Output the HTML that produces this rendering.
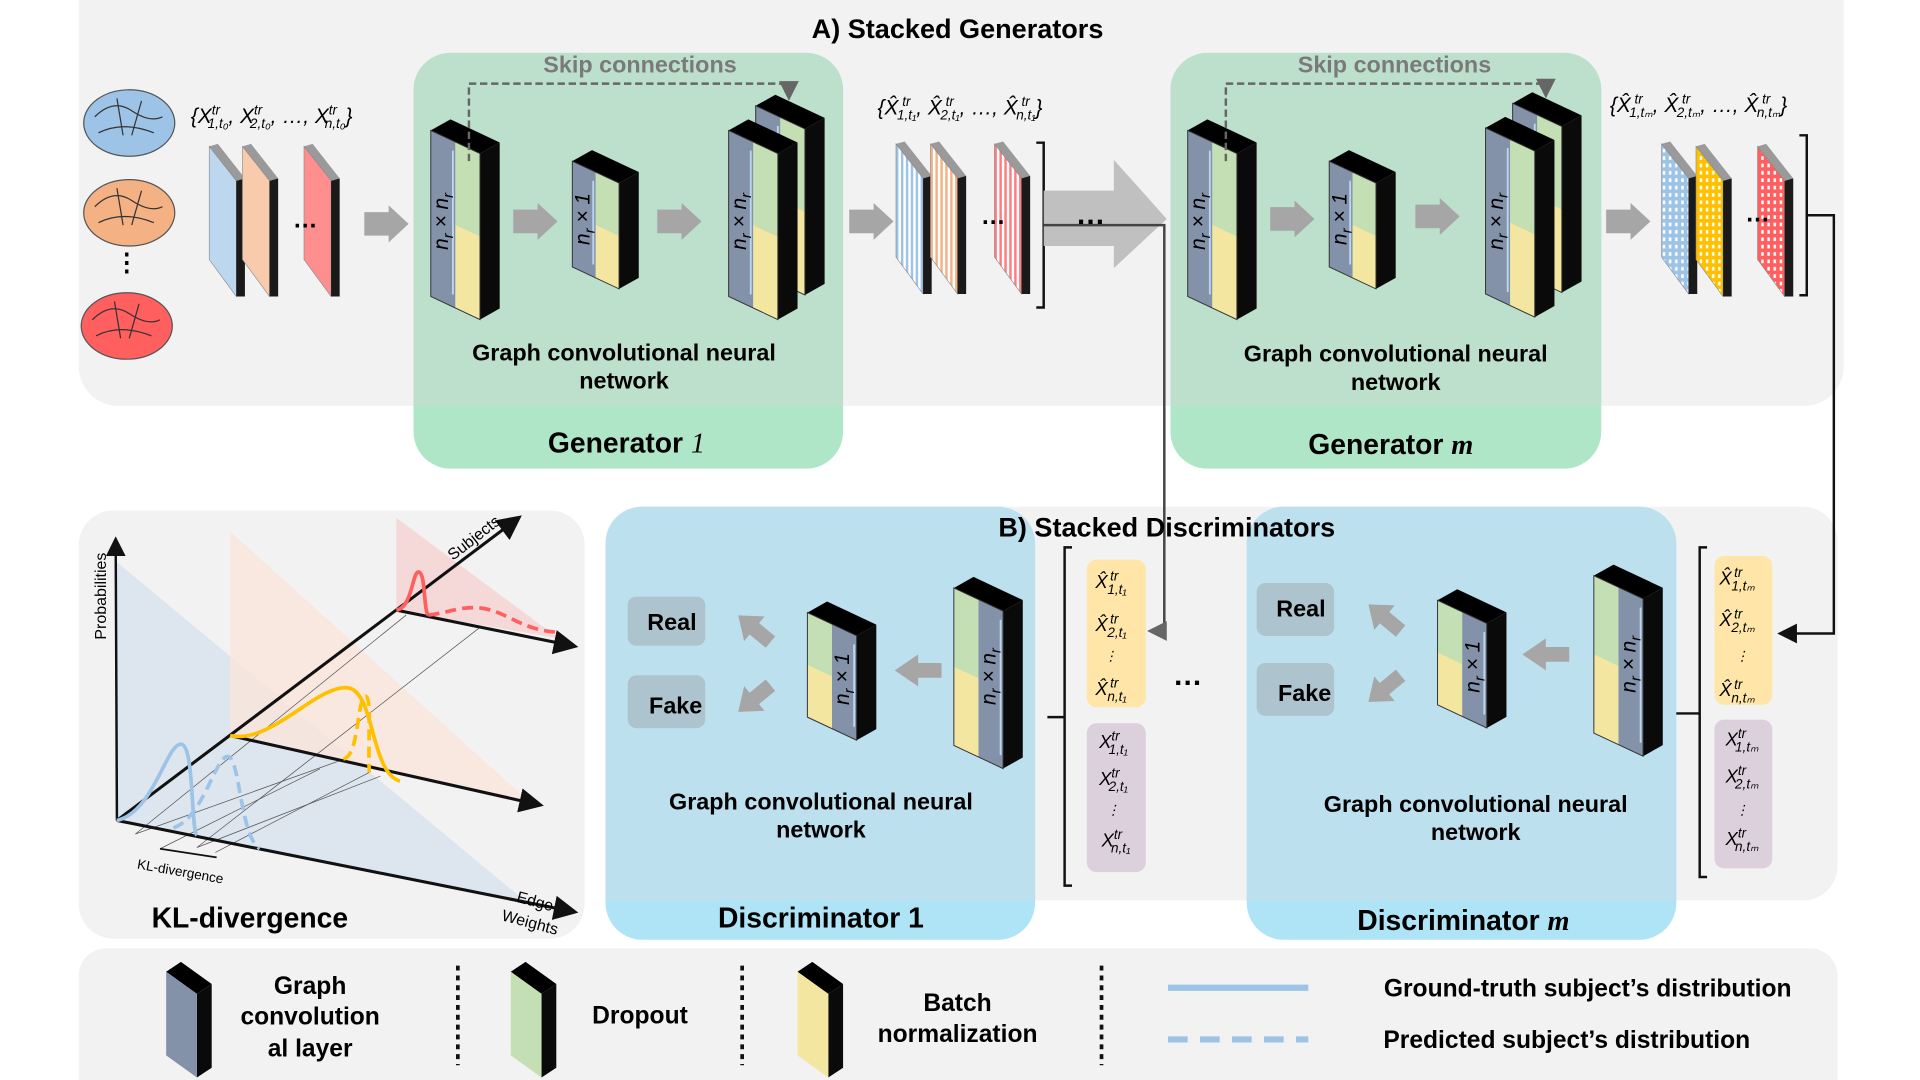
<!DOCTYPE html>
<html><head><meta charset="utf-8">
<style>
html,body{margin:0;padding:0;background:#fff;}
svg{display:block;}
text{font-family:"Liberation Sans",sans-serif;}
.b{font-weight:bold;}
.m{font-family:"Liberation Serif",serif;font-style:italic;}
</style></head>
<body>
<svg id="s" width="1920" height="1080" viewBox="0 0 1560 878" preserveAspectRatio="none" xmlns="http://www.w3.org/2000/svg">
<defs>
<pattern id="pb" width="4" height="4" patternUnits="userSpaceOnUse"><rect width="4" height="4" fill="#fff"/><rect width="2" height="4" fill="#9dc3e6"/></pattern>
<pattern id="po" width="4" height="4" patternUnits="userSpaceOnUse"><rect width="4" height="4" fill="#fff"/><rect width="2" height="4" fill="#f4b183"/></pattern>
<pattern id="pr" width="4" height="4" patternUnits="userSpaceOnUse"><rect width="4" height="4" fill="#fff"/><rect width="2" height="4" fill="#ff7c80"/></pattern>
<pattern id="hb" width="5" height="6" patternUnits="userSpaceOnUse"><rect width="5" height="6" fill="#9dc3e6"/><rect x="1" y="1" width="2" height="3" fill="#fff"/></pattern>
<pattern id="hy" width="5" height="6" patternUnits="userSpaceOnUse"><rect width="5" height="6" fill="#ffc000"/><rect x="1" y="1" width="2" height="3" fill="#fff"/></pattern>
<pattern id="hr" width="5" height="6" patternUnits="userSpaceOnUse"><rect width="5" height="6" fill="#ff5f5f"/><rect x="1" y="1" width="2" height="3" fill="#fff"/></pattern>
<marker id="ah" markerWidth="8" markerHeight="8" refX="6" refY="4" orient="auto"><path d="M0,0 L8,4 L0,8 z" fill="#111"/></marker>
<marker id="ag" markerWidth="8" markerHeight="8" refX="6" refY="4" orient="auto"><path d="M0,0 L8,4 L0,8 z" fill="#666"/></marker>
</defs>

<rect x="64" y="-30" width="1434" height="360" rx="32" fill="#f2f2f2"/>
<rect x="492" y="412" width="1001" height="320" rx="28" fill="#f2f2f2"/>
<rect x="64" y="415" width="411" height="348" rx="28" fill="#f2f2f2"/>
<rect x="64" y="771" width="1429" height="130" rx="22" fill="#f2f2f2"/>

<rect x="336" y="43" width="349" height="338" rx="30" fill="#b0e6c8"/>
<path d="M336,73 a30,30 0 0 1 30,-30 h289 a30,30 0 0 1 30,30 V330 H336 z" fill="#bde0cd"/>
<rect x="951" y="43" width="350" height="338" rx="30" fill="#b0e6c8"/>
<path d="M951,73 a30,30 0 0 1 30,-30 h290 a30,30 0 0 1 30,30 V330 H951 z" fill="#bde0cd"/>

<rect x="492" y="412" width="349" height="352" rx="30" fill="#aee4f5"/>
<path d="M492,442 a30,30 0 0 1 30,-30 h289 a30,30 0 0 1 30,30 V732 H492 z" fill="#bde0ee"/>
<rect x="1013" y="412" width="349" height="352" rx="30" fill="#aee4f5"/>
<path d="M1013,442 a30,30 0 0 1 30,-30 h289 a30,30 0 0 1 30,30 V732 H1013 z" fill="#bde0ee"/>

<g id="shapes"></g>

<text x="778" y="31" class="b" font-size="22" text-anchor="middle">A) Stacked Generators</text>
<text x="520" y="59" class="b" font-size="19" fill="#7a7a7a" text-anchor="middle">Skip connections</text>
<text x="1133" y="59" class="b" font-size="19" fill="#7a7a7a" text-anchor="middle">Skip connections</text>
<text x="507" y="293" class="b" font-size="19" text-anchor="middle">Graph convolutional neural</text>
<text x="507" y="316" class="b" font-size="19" text-anchor="middle">network</text>
<text x="1134" y="294" class="b" font-size="19" text-anchor="middle">Graph convolutional neural</text>
<text x="1134" y="317" class="b" font-size="19" text-anchor="middle">network</text>
<text x="509" y="368" class="b" font-size="23" text-anchor="middle">Generator <tspan class="m" font-weight="normal">1</tspan></text>
<text x="1130" y="369" class="b" font-size="23" text-anchor="middle">Generator <tspan class="m">m</tspan></text>
<text x="948" y="436" class="b" font-size="22" text-anchor="middle">B) Stacked Discriminators</text>
<text x="667" y="658" class="b" font-size="19" text-anchor="middle">Graph convolutional neural</text>
<text x="667" y="681" class="b" font-size="19" text-anchor="middle">network</text>
<text x="1199" y="660" class="b" font-size="19" text-anchor="middle">Graph convolutional neural</text>
<text x="1199" y="683" class="b" font-size="19" text-anchor="middle">network</text>
<text x="667" y="754" class="b" font-size="23" text-anchor="middle">Discriminator 1</text>
<text x="1189" y="756" class="b" font-size="23" text-anchor="middle">Discriminator <tspan class="m">m</tspan></text>

<g class="m" font-size="17" text-anchor="middle">
<text transform="translate(364,180) rotate(-90)">n<tspan font-size="12" dy="4">r</tspan><tspan dy="-4"> × n</tspan><tspan font-size="12" dy="4">r</tspan></text>
<text transform="translate(479,178) rotate(-90)">n<tspan font-size="12" dy="4">r</tspan><tspan dy="-4"> × 1</tspan></text>
<text transform="translate(606,180) rotate(-90)">n<tspan font-size="12" dy="4">r</tspan><tspan dy="-4"> × n</tspan><tspan font-size="12" dy="4">r</tspan></text>
<text transform="translate(979,180) rotate(-90)">n<tspan font-size="12" dy="4">r</tspan><tspan dy="-4"> × n</tspan><tspan font-size="12" dy="4">r</tspan></text>
<text transform="translate(1094,178) rotate(-90)">n<tspan font-size="12" dy="4">r</tspan><tspan dy="-4"> × 1</tspan></text>
<text transform="translate(1221,180) rotate(-90)">n<tspan font-size="12" dy="4">r</tspan><tspan dy="-4"> × n</tspan><tspan font-size="12" dy="4">r</tspan></text>
<text transform="translate(690,552) rotate(-90)">n<tspan font-size="12" dy="4">r</tspan><tspan dy="-4"> × 1</tspan></text>
<text transform="translate(809,550) rotate(-90)">n<tspan font-size="12" dy="4">r</tspan><tspan dy="-4"> × n</tspan><tspan font-size="12" dy="4">r</tspan></text>
<text transform="translate(1202,542) rotate(-90)">n<tspan font-size="12" dy="4">r</tspan><tspan dy="-4"> × 1</tspan></text>
<text transform="translate(1329,540) rotate(-90)">n<tspan font-size="12" dy="4">r</tspan><tspan dy="-4"> × n</tspan><tspan font-size="12" dy="4">r</tspan></text>
</g>

<g class="m" font-size="17">
<text x="155" y="100">{X<tspan font-size="11" dy="-7">tr</tspan><tspan font-size="11" dx="-10" dy="11">1,t₀</tspan><tspan dy="-4">, X</tspan><tspan font-size="11" dy="-7">tr</tspan><tspan font-size="11" dx="-10" dy="11">2,t₀</tspan><tspan dy="-4">, …, X</tspan><tspan font-size="11" dy="-7">tr</tspan><tspan font-size="11" dx="-10" dy="11">n,t₀</tspan><tspan dy="-4">}</tspan></text>
<text x="713" y="93">{X̂<tspan font-size="11" dy="-7"> tr</tspan><tspan font-size="11" dx="-11" dy="11">1,t₁</tspan><tspan dy="-4">, X̂</tspan><tspan font-size="11" dy="-7"> tr</tspan><tspan font-size="11" dx="-11" dy="11">2,t₁</tspan><tspan dy="-4">, …, X̂</tspan><tspan font-size="11" dy="-7"> tr</tspan><tspan font-size="11" dx="-11" dy="11">n,t₁</tspan><tspan dy="-4">}</tspan></text>
<text x="1308" y="91">{X̂<tspan font-size="11" dy="-7"> tr</tspan><tspan font-size="11" dx="-11" dy="11">1,tₘ</tspan><tspan dy="-4">, X̂</tspan><tspan font-size="11" dy="-7"> tr</tspan><tspan font-size="11" dx="-11" dy="11">2,tₘ</tspan><tspan dy="-4">, …, X̂</tspan><tspan font-size="11" dy="-7"> tr</tspan><tspan font-size="11" dx="-11" dy="11">n,tₘ</tspan><tspan dy="-4">}</tspan></text>
</g>

<rect x="883" y="455" width="48" height="120" rx="8" fill="#ffe6a8"/>
<rect x="883" y="588" width="48" height="121" rx="8" fill="#ddd0dd"/>
<rect x="1393" y="452" width="47" height="121" rx="8" fill="#ffe6a8"/>
<rect x="1393" y="585" width="47" height="121" rx="8" fill="#ddd0dd"/>
<g class="m" font-size="15">
<text x="890" y="478">X̂<tspan font-size="11" dx="2" dy="-6">tr</tspan><tspan font-size="11" dx="-9" dy="11">1,t₁</tspan></text>
<text x="890" y="513">X̂<tspan font-size="11" dx="2" dy="-6">tr</tspan><tspan font-size="11" dx="-9" dy="11">2,t₁</tspan></text>
<text x="897" y="537" font-size="11">⋮</text>
<text x="890" y="565">X̂<tspan font-size="11" dx="2" dy="-6">tr</tspan><tspan font-size="11" dx="-9" dy="11">n,t₁</tspan></text>
<text x="893" y="608">X<tspan font-size="11" dy="-6">tr</tspan><tspan font-size="11" dx="-9" dy="11">1,t₁</tspan></text>
<text x="893" y="638">X<tspan font-size="11" dy="-6">tr</tspan><tspan font-size="11" dx="-9" dy="11">2,t₁</tspan></text>
<text x="899" y="662" font-size="11">⋮</text>
<text x="895" y="688">X<tspan font-size="11" dy="-6">tr</tspan><tspan font-size="11" dx="-9" dy="11">n,t₁</tspan></text>
<text x="1397" y="475">X̂<tspan font-size="11" dx="2" dy="-6">tr</tspan><tspan font-size="11" dx="-9" dy="11">1,tₘ</tspan></text>
<text x="1397" y="509">X̂<tspan font-size="11" dx="2" dy="-6">tr</tspan><tspan font-size="11" dx="-9" dy="11">2,tₘ</tspan></text>
<text x="1410" y="537" font-size="11">⋮</text>
<text x="1397" y="566">X̂<tspan font-size="11" dx="2" dy="-6">tr</tspan><tspan font-size="11" dx="-9" dy="11">n,tₘ</tspan></text>
<text x="1402" y="606">X<tspan font-size="11" dy="-6">tr</tspan><tspan font-size="11" dx="-9" dy="11">1,tₘ</tspan></text>
<text x="1402" y="636">X<tspan font-size="11" dy="-6">tr</tspan><tspan font-size="11" dx="-9" dy="11">2,tₘ</tspan></text>
<text x="1410" y="662" font-size="11">⋮</text>
<text x="1402" y="687">X<tspan font-size="11" dy="-6">tr</tspan><tspan font-size="11" dx="-9" dy="11">n,tₘ</tspan></text>
</g>

<rect x="510" y="485" width="63" height="40" rx="7" fill="#adc4cf"/>
<rect x="510" y="549" width="63" height="43" rx="7" fill="#adc4cf"/>
<text x="546" y="512" class="b" font-size="19" text-anchor="middle">Real</text>
<text x="549" y="580" class="b" font-size="19" text-anchor="middle">Fake</text>
<rect x="1021" y="474" width="63" height="43" rx="7" fill="#adc4cf"/>
<rect x="1021" y="539" width="63" height="43" rx="7" fill="#adc4cf"/>
<text x="1057" y="501" class="b" font-size="19" text-anchor="middle">Real</text>
<text x="1060" y="570" class="b" font-size="19" text-anchor="middle">Fake</text>

<text x="248" y="185" class="b" font-size="20" text-anchor="middle">…</text>
<text x="807" y="182" class="b" font-size="20" text-anchor="middle">…</text>
<text x="1428" y="180" class="b" font-size="20" text-anchor="middle">…</text>
<text x="886" y="182" class="b" font-size="24" text-anchor="middle">…</text>
<text x="965" y="557" class="b" font-size="24" text-anchor="middle">…</text>
<text x="103" y="220" class="b" font-size="20" text-anchor="middle">⋮</text>

<polygon points="95,457 95,667 426,732" fill="#dde6ef"/>
<polygon points="187,432 187,598 428,650" fill="#fae5db" opacity="0.8"/>
<polygon points="322,421 322,496 454,519" fill="#f5d5d5" opacity="0.9"/>
<g stroke="#555" stroke-width="0.6" fill="none">
<line x1="110" y1="678" x2="280" y2="617"/><line x1="110" y1="678" x2="330" y2="500"/><line x1="160" y1="689" x2="309" y2="631"/><line x1="160" y1="689" x2="390" y2="510"/>
<line x1="130" y1="690" x2="260" y2="625"/><line x1="175" y1="693" x2="300" y2="628"/>
</g>
<line x1="95" y1="667" x2="94" y2="440" stroke="#111" stroke-width="2" marker-end="url(#ah)"/>
<line x1="95" y1="667" x2="465" y2="741" stroke="#111" stroke-width="2.5" marker-end="url(#ah)"/>
<line x1="95" y1="667" x2="420" y2="422" stroke="#111" stroke-width="2.5" marker-end="url(#ah)"/>
<line x1="187" y1="598" x2="437" y2="654" stroke="#111" stroke-width="2.5" marker-end="url(#ah)"/>
<line x1="322" y1="496" x2="465" y2="525" stroke="#111" stroke-width="2.5" marker-end="url(#ah)"/>
<path d="M95,667 C125,660 135,605 147,605 C158,605 155,675 160,679" stroke="#9dc3e6" stroke-width="3" fill="none"/>
<path d="M141,673 C165,665 175,615 185,615 C195,615 195,680 211,690" stroke="#9dc3e6" stroke-width="3" fill="none" stroke-dasharray="9,5"/>
<path d="M187,598 C220,605 255,559 281,559 C305,559 300,628 325,635" stroke="#ffc000" stroke-width="3" fill="none"/>
<path d="M279,617 C292,615 290,566 297,566 C302,566 299,600 300,628" stroke="#ffc000" stroke-width="3" fill="none" stroke-dasharray="9,5"/>
<path d="M322,496 C335,494 335,465 340,465 C346,465 344,497 348,500" stroke="#ff5f5f" stroke-width="3" fill="none"/>
<path d="M348,500 C365,498 370,494 385,494 C410,494 420,512 453,514" stroke="#ff5f5f" stroke-width="3" fill="none" stroke-dasharray="9,5"/>
<line x1="130" y1="690" x2="176" y2="697" stroke="#111" stroke-width="1.5"/>
<text transform="translate(86,520) rotate(-90)" font-size="13">Probabilities</text>
<text transform="translate(368,456) rotate(-38)" font-size="13">Subjects</text>
<text transform="translate(111,706) rotate(10)" font-size="11">KL-divergence</text>
<text transform="translate(419,733) rotate(15)" font-size="13">Edge</text>
<text transform="translate(407,748) rotate(15)" font-size="13">Weights</text>
<text x="203" y="754" class="b" font-size="23" text-anchor="middle">KL-divergence</text>

<g stroke="#111" stroke-width="3" stroke-dasharray="4,4"><line x1="372" y1="785" x2="372" y2="866"/><line x1="603" y1="785" x2="603" y2="866"/><line x1="895" y1="785" x2="895" y2="866"/></g>
<line x1="949" y1="803" x2="1063" y2="803" stroke="#9dc3e6" stroke-width="5"/>
<line x1="949" y1="845" x2="1063" y2="845" stroke="#9dc3e6" stroke-width="5" stroke-dasharray="16,10"/>
<text x="252" y="808" class="b" font-size="20" text-anchor="middle">Graph</text>
<text x="252" y="833" class="b" font-size="20" text-anchor="middle">convolution</text>
<text x="252" y="859" class="b" font-size="20" text-anchor="middle">al layer</text>
<text x="520" y="832" class="b" font-size="20" text-anchor="middle">Dropout</text>
<text x="778" y="822" class="b" font-size="20" text-anchor="middle">Batch</text>
<text x="778" y="847" class="b" font-size="20" text-anchor="middle">normalization</text>
<text x="1290" y="810" class="b" font-size="20" text-anchor="middle">Ground-truth subject’s distribution</text>
<text x="1273" y="852" class="b" font-size="20" text-anchor="middle">Predicted subject’s distribution</text>
</svg>
<script>
var g=document.getElementById('shapes'),h='';
function P(pts,f,extra){h+='<polygon points="'+pts.map(function(p){return p[0]+','+p[1]}).join(' ')+'" fill="'+f+'" '+(extra||'')+'/>';}
var s=0.47,dx=16,dy=-9;
function blk(x,y,W,H,gw,order){
 var tr=[x+W,y+W*s];
 P([[x,y],[x+dx,y+dy],[x+W+dx,y+W*s+dy],tr],'#000');
 P([tr,[x+W+dx,y+W*s+dy],[x+W+dx,y+W*s+dy+H],[x+W,y+W*s+H]],'#0a0a0a');
 var gx=order=='g'?x:x+W-gw, cx=order=='g'?x+gw:x, cw=W-gw;
 function face(a,b,y0f,y1f,c){P([[a,y+(a-x)*s+H*y0f],[b,y+(b-x)*s+H*y0f],[b,y+(b-x)*s+H*y1f],[a,y+(a-x)*s+H*y1f]],c);}
 face(gx,gx+gw,0,1,'#8391a9');
 face(cx,cx+cw,0,0.5,'#c5dfb4');
 face(cx,cx+cw,0.5,1,'#f3e6a0');
 h+='<line x1="'+(gx+gw-2)+'" y1="'+(y+(gx+gw-2-x)*s+8)+'" x2="'+(gx+gw-2)+'" y2="'+(y+(gx+gw-2-x)*s+H-10)+'" stroke="#bcd6f0" stroke-width="1.5"/>';
 P([[x,y],[x+W,y+W*s],[x+W,y+W*s+H],[x,y+H]],'none','stroke="#333" stroke-width="0.8"');
}
function plane(x,y,f){
 P([[x,y+2],[x+7,y],[x+29,y+28],[x+22,y+30]],'#9a9a9a');
 P([[x,y+2],[x+22,y+30],[x+22,y+124],[x,y+94]],f,'stroke="#888" stroke-width="0.5"');
 P([[x+22,y+30],[x+29,y+28],[x+29,y+124],[x+22,y+124]],'#1a1a1a');
}
function arrow(x,y,w,hh){var b=hh*0.32;P([[x,y-b],[x+w*0.55,y-b],[x+w*0.55,y-hh/2],[x+w,y],[x+w*0.55,y+hh/2],[x+w*0.55,y+b],[x,y+b]],'#a6a6a6');}
function darrow(x,y,ang,len){var c=Math.cos(ang),sn=Math.sin(ang),pts=[[0,-6],[len*0.5,-6],[len*0.5,-13],[len,0],[len*0.5,13],[len*0.5,6],[0,6]];P(pts.map(function(p){return [x+p[0]*c-p[1]*sn,y+p[0]*sn+p[1]*c]}),'#a6a6a6');}
[['#9dc3e6',105,100],['#f4b183',105,173],['#ff5f5f',103,265]].forEach(function(b){
 h+='<ellipse cx="'+b[1]+'" cy="'+b[2]+'" rx="37" ry="27" fill="'+b[0]+'" stroke="#555" stroke-width="1"/>';
 h+='<path d="M'+(b[1]-28)+','+(b[2]-5)+' q15,-15 30,-5 t25,5 M'+(b[1]-25)+','+(b[2]+8)+' q20,-10 45,0 M'+(b[1]-10)+','+(b[2]-20)+' l5,30 M'+(b[1]+10)+','+(b[2]-18)+' l-8,28" stroke="#333" stroke-width="1" fill="none"/>';
});
plane(170,117,'#bdd7ee');plane(197,117,'#f8cbad');plane(247,117,'#ff8f8f');
plane(728,115,'url(#pb)');plane(756,115,'url(#po)');plane(808,115,'url(#pr)');
plane(1350,115,'url(#hb)');plane(1378,117,'url(#hy)');plane(1428,117,'url(#hr)');
function brk(x,y1,y2,side){h+='<path d="M'+(x-6*side)+','+y1+' h'+(6*side)+' V'+y2+' h'+(-6*side)+'" stroke="#111" stroke-width="2" fill="none"/>';}
brk(848,116,250,1);brk(1468,110,240,1);brk(865,445,720,-1);brk(1381,445,713,-1);
h+='<line x1="851" y1="583" x2="865" y2="583" stroke="#111" stroke-width="2"/><line x1="1362" y1="580" x2="1381" y2="580" stroke="#111" stroke-width="2"/>';
P([[848,155],[905,155],[905,130],[948,178],[905,218],[905,200],[848,200]],'#c0c0c0');
arrow(296,182,36,30);arrow(417,180,36,30);arrow(534,180,36,30);arrow(690,180,36,30);
arrow(1032,178,36,30);arrow(1150,176,36,30);arrow(1305,180,36,30);
darrow(765,545,Math.PI,38);darrow(1275,532,Math.PI,38);
darrow(626,522,-2.45,34);darrow(626,557,2.45,34);darrow(1138,513,-2.45,34);darrow(1138,549,2.45,34);
blk(350,106,40,135,20,'g');blk(465,131,38,86,19,'g');blk(614,86,40,135,20,'g');blk(592,106,40,135,20,'g');
blk(965,106,40,135,20,'g');blk(1080,131,38,86,19,'g');blk(1229,84,40,135,20,'g');blk(1207,104,40,135,20,'g');
blk(656,498,40,85,20,'d');blk(775,478,40,128,20,'d');blk(1168,488,40,85,20,'d');blk(1295,468,40,128,20,'d');
h+='<path d="M381,131 V68 H641 V78" stroke="#666" stroke-width="2" stroke-dasharray="6,3" fill="none" marker-end="url(#ag)"/>';
h+='<path d="M996,131 V68 H1256 V76" stroke="#666" stroke-width="2" stroke-dasharray="6,3" fill="none" marker-end="url(#ag)"/>';
h+='<path d="M848,183 H946 V513 H936" stroke="#444" stroke-width="2" fill="none" marker-end="url(#ag)"/>';
h+='<path d="M1468,175 H1490 V515 H1448" stroke="#111" stroke-width="2" fill="none" marker-end="url(#ah)"/>';
function lb(x,c){P([[x,790],[x+12,782],[x+37,800],[x+25,808]],'#000');P([[x+25,808],[x+37,800],[x+37,868],[x+25,876]],'#0a0a0a');P([[x,790],[x+25,808],[x+25,876],[x,858]],c);}
lb(135,'#8391a9');lb(415,'#c5dfb4');lb(648,'#f3e6a0');
g.innerHTML=h;
</script>
</body></html>
